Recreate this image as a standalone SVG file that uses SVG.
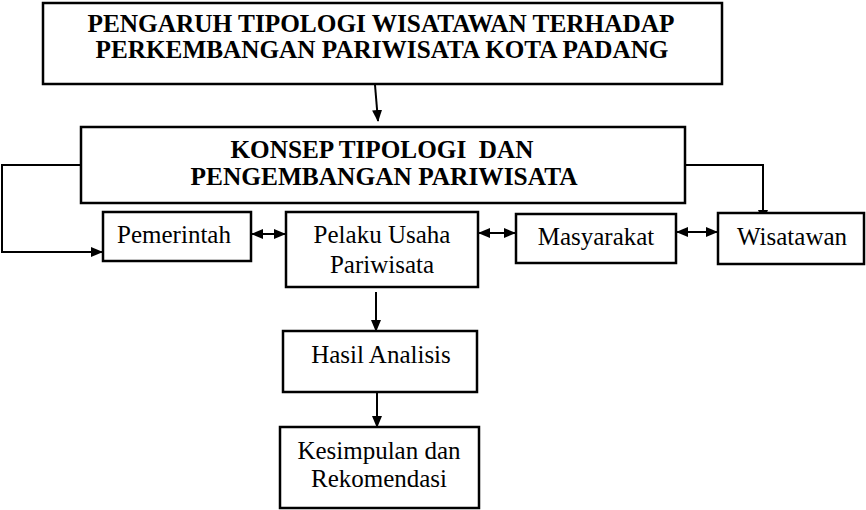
<svg xmlns="http://www.w3.org/2000/svg" width="866" height="510" viewBox="0 0 866 510">
<style>
.box{fill:#fff;stroke:#000;stroke-width:2.5}
.t{font-family:"Liberation Serif","Times New Roman",serif;font-size:25px;fill:#000;text-anchor:middle}
.b{font-weight:bold;font-size:25px}
.c{fill:none;stroke:#000;stroke-width:2}
</style>
<defs>
<marker id="ah" markerUnits="userSpaceOnUse" markerWidth="12" markerHeight="10" refX="11" refY="5" orient="auto-start-reverse">
<path d="M0,0 L12,5 L0,10 Z" fill="#000"/>
</marker>
</defs>
<rect width="866" height="510" fill="#fff"/>
<g id="connectors">
<line class="c" x1="375" y1="85" x2="378" y2="121" marker-end="url(#ah)"/>
<polyline class="c" points="81,165 2,165 2,252 102,252" marker-end="url(#ah)"/>
<polyline class="c" points="685,165 763,165 763,221" marker-end="url(#ah)"/>
<line class="c" x1="252" y1="234" x2="285" y2="234" marker-start="url(#ah)" marker-end="url(#ah)"/>
<line class="c" x1="479" y1="233" x2="515" y2="233" marker-start="url(#ah)" marker-end="url(#ah)"/>
<line class="c" x1="677" y1="232" x2="717" y2="232" marker-start="url(#ah)" marker-end="url(#ah)"/>
<line class="c" x1="376" y1="292" x2="376" y2="331" marker-end="url(#ah)"/>
<line class="c" x1="377" y1="392" x2="377" y2="427" marker-end="url(#ah)"/>
</g>
<g id="judul">
<rect class="box" x="43" y="3" width="679" height="81"/>
<text class="t b" x="381" y="32" textLength="587" lengthAdjust="spacingAndGlyphs">PENGARUH TIPOLOGI WISATAWAN TERHADAP</text>
<text class="t b" x="382" y="58" textLength="573" lengthAdjust="spacingAndGlyphs">PERKEMBANGAN PARIWISATA KOTA PADANG</text>
</g>
<g id="konsep">
<rect class="box" x="81" y="127" width="604" height="76"/>
<text class="t b" x="382" y="158" xml:space="preserve" textLength="303" lengthAdjust="spacingAndGlyphs">KONSEP TIPOLOGI  DAN</text>
<text class="t b" x="384" y="185" textLength="387" lengthAdjust="spacingAndGlyphs">PENGEMBANGAN PARIWISATA</text>
</g>
<g id="pemerintah">
<rect class="box" x="103" y="212" width="148" height="49"/>
<text class="t" x="174" y="243">Pemerintah</text>
</g>
<g id="pelaku">
<rect class="box" x="286" y="212" width="192" height="75"/>
<text class="t" x="382" y="243">Pelaku Usaha</text>
<text class="t" x="382" y="273">Pariwisata</text>
</g>
<g id="masyarakat">
<rect class="box" x="516" y="214" width="160" height="49"/>
<text class="t" x="596" y="245">Masyarakat</text>
</g>
<g id="wisatawan">
<rect class="box" x="718" y="213" width="146" height="51"/>
<text class="t" x="792" y="245">Wisatawan</text>
</g>
<g id="hasil">
<rect class="box" x="283" y="331" width="194" height="61"/>
<text class="t" x="381" y="363">Hasil Analisis</text>
</g>
<g id="kesimpulan">
<rect class="box" x="280" y="427" width="199" height="81"/>
<text class="t" x="379" y="459">Kesimpulan dan</text>
<text class="t" x="379" y="487">Rekomendasi</text>
</g>
</svg>
